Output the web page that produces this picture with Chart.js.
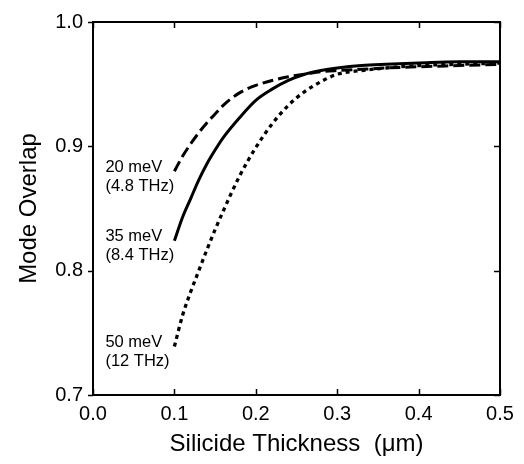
<!DOCTYPE html>
<html>
<head>
<meta charset="utf-8">
<script src="https://cdn.jsdelivr.net/npm/chart.js@4"></script>
<style>
  html, body { margin: 0; padding: 0; background: #fff; }
  #wrap { width: 524px; height: 464px; }
</style>
</head>
<body>
<div id="wrap"><canvas id="chart" width="524" height="464"></canvas></div>
<script>
// thickness in um
const thickness = [0.10, 0.11, 0.12, 0.13, 0.14, 0.15, 0.16, 0.18, 0.20, 0.22, 0.24, 0.26, 0.28, 0.30, 0.33, 0.36, 0.40, 0.45, 0.50];
// mode overlap for each photon energy
const overlap20 = [0.880, 0.892, 0.902, 0.911, 0.919, 0.926, 0.933, 0.943, 0.949, 0.953, 0.956, 0.958, 0.960, 0.961, 0.962, 0.963, 0.964, 0.965, 0.966];
const overlap35 = [0.824, 0.843, 0.858, 0.873, 0.886, 0.897, 0.907, 0.923, 0.937, 0.946, 0.953, 0.958, 0.961, 0.963, 0.965, 0.966, 0.967, 0.968, 0.968];
const overlap50 = [0.739, 0.764, 0.783, 0.800, 0.817, 0.833, 0.848, 0.876, 0.899, 0.918, 0.933, 0.944, 0.952, 0.958, 0.961, 0.963, 0.965, 0.966, 0.967];
const curveLabels = [["20 meV", "(4.8 THz)"], ["35 meV", "(8.4 THz)"], ["50 meV", "(12 THz)"]];
const xTicks = [0.0, 0.1, 0.2, 0.3, 0.4, 0.5];
const yTicks = [0.7, 0.8, 0.9, 1.0];

const font = "'Liberation Sans', Arial, sans-serif";
const pts = ys => thickness.map((x, i) => ({ x: x, y: ys[i] }));

// frame, inside ticks and curve labels
const decor = {
  id: "decor",
  afterDraw(chart) {
    const ctx = chart.ctx;
    const a = chart.chartArea;
    const xs = chart.scales.x, ys = chart.scales.y;
    ctx.save();
    ctx.strokeStyle = "#000";
    ctx.lineWidth = 2;
    ctx.strokeRect(a.left, a.top, a.right - a.left, a.bottom - a.top);
    ctx.lineWidth = 1.5;
    ctx.beginPath();
    xTicks.forEach(v => {
      const px = Math.round(xs.getPixelForValue(v)) + 0.5;
      ctx.moveTo(px, a.bottom); ctx.lineTo(px, a.bottom - 6);
      ctx.moveTo(px, a.top); ctx.lineTo(px, a.top + 6);
    });
    yTicks.forEach(v => {
      const py = Math.round(ys.getPixelForValue(v)) + 0.5;
      ctx.moveTo(a.left, py); ctx.lineTo(a.left - 5, py);
      ctx.moveTo(a.right, py); ctx.lineTo(a.right - 6, py);
    });
    ctx.stroke();

    ctx.fillStyle = "#000";
    ctx.font = "16.5px " + font;
    ctx.textAlign = "left";
    ctx.textBaseline = "middle";
    const firsts = [overlap20[0], overlap35[0], overlap50[0]];
    firsts.forEach((v, i) => {
      const px = xs.getPixelForValue(thickness[0]) - 69;
      const py = ys.getPixelForValue(v) - 4;
      ctx.fillText(curveLabels[i][0], px, py);
      ctx.fillText(curveLabels[i][1], px, py + 19);
    });
    ctx.restore();
  }
};

new Chart(document.getElementById("chart"), {
  type: "line",
  data: {
    datasets: [
      { label: "20 meV", data: pts(overlap20), borderColor: "#000", borderWidth: 3, borderDash: [11, 5], pointRadius: 0, cubicInterpolationMode: "monotone", fill: false },
      { label: "35 meV", data: pts(overlap35), borderColor: "#000", borderWidth: 3, pointRadius: 0, cubicInterpolationMode: "monotone", fill: false },
      { label: "50 meV", data: pts(overlap50), borderColor: "#000", borderWidth: 3.3, borderDash: [4, 4], pointRadius: 0, cubicInterpolationMode: "monotone", fill: false }
    ]
  },
  options: {
    responsive: false,
    animation: false,
    layout: { padding: { top: 17, right: 24, left: 0, bottom: 0 } },
    plugins: { legend: { display: false }, tooltip: { enabled: false } },
    scales: {
      x: {
        type: "linear", min: 0, max: 0.5,
        afterBuildTicks: s => { s.ticks = xTicks.map(v => ({ value: v })); },
        afterFit: s => { s.height = 69; },
        grid: { display: false, drawTicks: false },
        border: { display: false },
        ticks: { color: "#000", padding: 7, font: { family: font, size: 20 }, callback: v => v.toFixed(1) },
        title: { display: true, text: "Silicide Thickness  (\u03bcm)", color: "#000", font: { family: font, size: 24 }, padding: { top: 0, bottom: 5 } }
      },
      y: {
        type: "linear", min: 0.7, max: 1.0,
        afterBuildTicks: s => { s.ticks = yTicks.map(v => ({ value: v })); },
        afterFit: s => { s.width = 93; },
        grid: { display: false, drawTicks: false },
        border: { display: false },
        ticks: { color: "#000", padding: 10, font: { family: font, size: 20 }, callback: v => v.toFixed(1) },
        title: { display: true, text: "Mode Overlap", color: "#000", font: { family: font, size: 24 }, padding: { top: 15, bottom: 0 } }
      }
    }
  },
  plugins: [decor]
});
</script>
</body>
</html>
